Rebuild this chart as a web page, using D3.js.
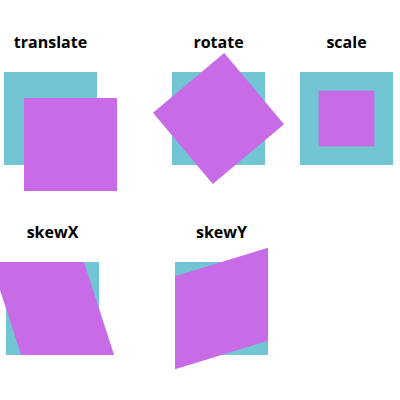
<!DOCTYPE html>
<html>
<head>
<meta charset="utf-8">
<script src="https://d3js.org/d3.v7.min.js"></script>
<style>body{margin:0;background:#fff}</style>
</head>
<body>
<script>
var names = ["translate", "rotate", "scale", "skewX", "skewY"];
var transforms = ["translate(20,26)", "rotate(50)", "scale(0.6)", "skewX(18)", "skewY(-17)"];
var boxX = [4, 172, 300, 6, 175];
var boxY = [72, 72, 72, 262, 262];
var size = 93;

var svg = d3.select("body").append("svg").attr("width", 400).attr("height", 400);

var g = svg.selectAll("g.cell")
  .data(names)
  .enter().append("g")
    .attr("class", "cell")
    .attr("transform", (d, i) => `translate(${boxX[i]},${boxY[i]})`);

g.append("rect")
  .attr("width", size).attr("height", size)
  .attr("fill", "#72c6d4");

// transform about the square's centre, translate is plain
g.append("rect")
  .attr("x", -size / 2).attr("y", -size / 2)
  .attr("width", size).attr("height", size)
  .attr("fill", "#c76be6")
  .attr("transform", (d, i) => `translate(${size / 2},${size / 2}) ${transforms[i]}`);

g.append("text")
  .attr("x", size / 2 + (i => 0)()).attr("y", -24)
  .attr("text-anchor", "middle")
  .attr("font-family", "Open Sans")
  .attr("font-weight", "bold")
  .attr("font-size", 16)
  .attr("fill", "#000")
  .text(d => d);
</script>
</body>
</html>
